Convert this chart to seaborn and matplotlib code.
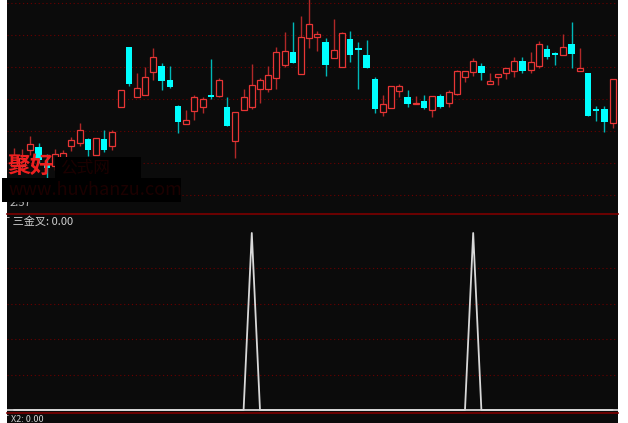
import pandas as pd
import seaborn as sns
import matplotlib.pyplot as plt
from matplotlib.patches import Rectangle

# daily candles
opens = [2.694, 2.691, 2.741, 2.750, 2.700, 2.691, 2.716, 2.753, 2.763, 2.775,
         2.725, 2.775, 2.753, 2.875, 3.063, 2.906, 2.913, 2.984, 3.003, 2.959,
         2.878, 2.822, 2.863, 2.875, 2.911, 2.909, 2.875, 2.769, 2.866, 2.875,
         2.931, 2.931, 2.966, 3.006, 3.047, 2.978, 3.091, 3.094, 3.078, 3.028,
         3.000, 3.088, 3.059, 3.038, 2.963, 2.859, 2.872, 2.925, 2.906, 2.883,
         2.894, 2.866, 2.909, 2.888, 2.916, 2.969, 2.984, 3.003, 2.947, 2.969,
         2.981, 2.988, 3.019, 2.991, 3.003, 3.056, 3.042, 3.038, 3.072, 2.988,
         2.981, 2.869, 2.869, 2.825]
highs = [2.747, 2.744, 2.784, 2.763, 2.728, 2.744, 2.741, 2.781, 2.825, 2.778,
         2.778, 2.803, 2.803, 2.928, 3.063, 2.981, 3.000, 3.059, 3.013, 3.003,
         2.881, 2.866, 2.913, 2.906, 3.025, 2.966, 2.906, 2.859, 2.931, 3.009,
         2.966, 3.003, 3.063, 3.109, 3.141, 3.159, 3.215, 3.113, 3.091, 3.150,
         3.109, 3.113, 3.078, 3.084, 2.969, 2.913, 2.941, 2.947, 2.928, 2.909,
         2.913, 2.909, 2.916, 2.928, 2.991, 2.988, 3.028, 3.013, 2.981, 2.978,
         2.997, 3.031, 3.031, 3.047, 3.081, 3.069, 3.047, 3.103, 3.141, 3.059,
         2.981, 2.878, 2.878, 2.963]
lows = [2.684, 2.678, 2.725, 2.700, 2.653, 2.678, 2.703, 2.738, 2.753, 2.722,
        2.725, 2.734, 2.741, 2.875, 2.941, 2.906, 2.913, 2.959, 2.928, 2.934,
        2.794, 2.822, 2.834, 2.856, 2.900, 2.906, 2.816, 2.716, 2.866, 2.869,
        2.888, 2.922, 2.931, 3.000, 3.013, 2.978, 3.059, 3.050, 2.972, 3.028,
        3.000, 3.016, 2.931, 2.997, 2.856, 2.847, 2.872, 2.906, 2.875, 2.883,
        2.869, 2.844, 2.872, 2.875, 2.913, 2.953, 2.972, 2.959, 2.947, 2.944,
        2.963, 2.969, 2.981, 2.981, 2.997, 3.025, 3.006, 3.038, 2.997, 2.988,
        2.847, 2.831, 2.797, 2.809]
closes = [2.725, 2.716, 2.759, 2.709, 2.684, 2.728, 2.731, 2.772, 2.803, 2.741,
          2.778, 2.741, 2.797, 2.928, 2.947, 2.934, 2.969, 3.031, 2.956, 2.938,
          2.828, 2.834, 2.906, 2.900, 2.906, 2.959, 2.816, 2.859, 2.906, 2.944,
          2.959, 2.975, 3.047, 3.050, 3.013, 3.094, 3.134, 3.103, 3.006, 3.053,
          3.106, 3.038, 3.053, 2.997, 2.869, 2.884, 2.941, 2.941, 2.884, 2.886,
          2.872, 2.909, 2.875, 2.922, 2.988, 2.988, 3.019, 2.981, 2.956, 2.978,
          2.997, 3.019, 2.988, 3.016, 3.072, 3.031, 3.039, 3.063, 3.041, 2.997,
          2.847, 2.864, 2.828, 2.963]

# 三金叉 signal (1 on the bar where the triple cross fires)
cross = [0] * 29 + [1] + [0] * 26 + [1] + [0] * 17

price_grid = [2.6, 2.7, 2.8, 2.9, 3.0, 3.1, 3.2]
cross_grid = [0.2, 0.4, 0.6, 0.8]

BG = "#0b0b0b"
UP = "#e83535"
UP_WICK = "#b02828"
DOWN = "#00ffff"
DOWN_WICK = "#00b8b8"
GRID = "#6a0000"
SEP = "#7d0000"
W, H = 628, 423


def fig_rect(x0, y0, x1, y1):
    # pixel box (top-left origin) -> figure fraction rect
    return [x0 / W, 1 - y1 / H, (x1 - x0) / W, (y1 - y0) / H]


def create_chart():
    df = pd.DataFrame({"open": opens, "high": highs, "low": lows,
                       "close": closes, "cross": cross})
    df["day"] = range(len(df))
    df["up"] = df["close"] >= df["open"]

    sns.set_theme(style="dark", rc={"axes.facecolor": BG})
    plt.rcParams["font.family"] = ["Noto Sans CJK SC", "DejaVu Sans"]

    fig = plt.figure(figsize=(6.28, 4.23), dpi=100, facecolor="white")
    fig.patches.append(Rectangle((7 / W, 0), 610.5 / W, 1, transform=fig.transFigure,
                                 facecolor=BG, edgecolor="none", zorder=-10))

    ax = fig.add_axes(fig_rect(7, 0, 617.5, 214))
    ax2 = fig.add_axes(fig_rect(7, 215, 617.5, 413))
    ax3 = fig.add_axes(fig_rect(7, 413.5, 617.5, 423))

    xlim = (-0.854, 73.6)

    # --- candles
    up = df[df["up"]]
    dn = df[~df["up"]]
    ax.vlines(up["day"], up["low"], up["high"], color=UP_WICK, lw=1.0, zorder=1)
    ax.vlines(dn["day"], dn["low"], dn["high"], color=DOWN_WICK, lw=1.0, zorder=1)
    ax.bar(up["day"], (up["close"] - up["open"]).clip(lower=0.002), bottom=up["open"],
           width=0.74, facecolor=BG, edgecolor=UP, linewidth=0.9, zorder=2)
    ax.bar(dn["day"], (dn["open"] - dn["close"]).clip(lower=0.004), bottom=dn["close"],
           width=0.8, facecolor=DOWN, edgecolor="none", zorder=2)
    for g in price_grid:
        ax.axhline(g, color=GRID, lw=0.8, ls=(0, (1, 2.5)), zorder=0)
    ax.set_xlim(*xlim)
    ax.set_ylim(2.5406, 3.2094)

    # --- indicator pane
    for g in cross_grid:
        ax2.axhline(g, color=GRID, lw=0.8, ls=(0, (1, 2.5)), zorder=0)
    ax2.axhline(0, color="#c8c8c8", lw=1.4, zorder=1)
    sns.lineplot(data=df, x="day", y="cross", ax=ax2, color="#d8d8d8",
                 linewidth=1.3, zorder=2)
    ax2.set_xlim(*xlim)
    ax2.set_ylim(-0.0169, 1.1017)
    ax2.text(-8 / 610.5, (413 - 222) / 198, "丅 三金叉: 0.00", transform=ax2.transAxes,
             color="#d0d0d0", fontsize=8, va="center", ha="left", clip_on=True)

    ax3.set_xlim(0, 1)
    ax3.set_ylim(0, 1)
    ax3.text(-7 / 610.5, 0.35, "丅 X2: 0.00", transform=ax3.transAxes,
             color="#d0d0d0", fontsize=6.5, va="center", ha="left", clip_on=True)

    for a in (ax, ax2, ax3):
        a.set_xticks([])
        a.set_yticks([])
        a.set_xlabel("")
        a.set_ylabel("")
        for s in a.spines.values():
            s.set_visible(False)
    for a in (ax, ax2):
        a.spines["bottom"].set_visible(True)
        a.spines["bottom"].set_color(SEP)
        a.spines["bottom"].set_linewidth(1.2)

    # watermark overlay in the lower-left of the price pane
    fig.text(10 / W, 1 - 203 / H, "2.57", color="#c0c0c0", fontsize=8,
             va="center", ha="left", zorder=3)
    fig.text(7 / W, 1 - 166 / H, "聚好", color="#ee2020", fontsize=16.5,
             fontweight="bold", va="center", ha="left", zorder=4)
    fig.patches.append(Rectangle((55 / W, 1 - 178.3 / H), 86 / W, 21.6 / H,
                                 transform=fig.transFigure, facecolor="black",
                                 edgecolor="none", zorder=5))
    fig.patches.append(Rectangle((2 / W, 1 - 201.7 / H), 179 / W, 23.4 / H,
                                 transform=fig.transFigure, facecolor="black",
                                 edgecolor="none", zorder=5))
    fig.text(60 / W, 1 - 167.5 / H, "公式网", color="#1c0000", fontsize=12,
             va="center", ha="left", zorder=6)
    fig.text(9 / W, 1 - 190 / H, "www.huvhanzu.com", color="#1c0000", fontsize=13,
             va="center", ha="left", zorder=6)

    fig.savefig("out.png", dpi=100, facecolor="white")


if __name__ == "__main__":
    create_chart()
